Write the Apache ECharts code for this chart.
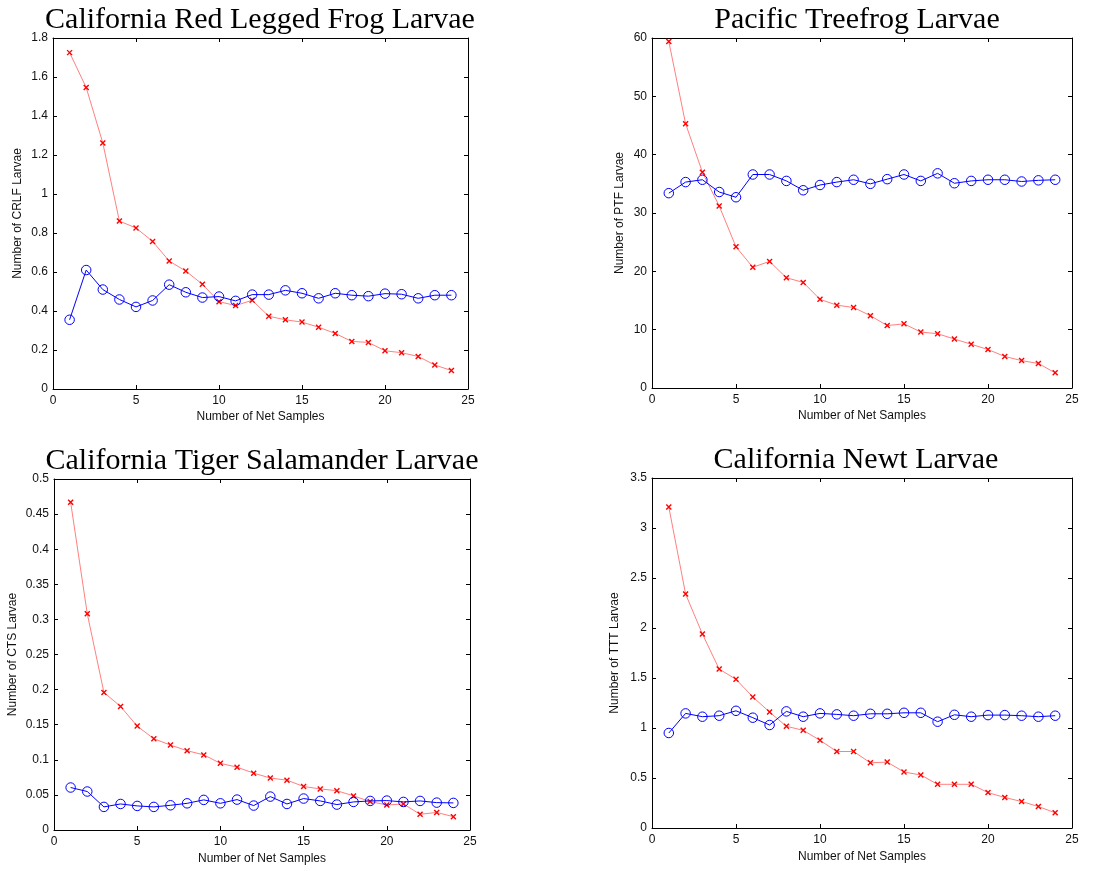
<!DOCTYPE html>
<html>
<head>
<meta charset="utf-8">
<script src="https://cdn.jsdelivr.net/npm/echarts@6/dist/echarts.min.js"></script>
<style>
  html, body { margin: 0; padding: 0; background: #fff; }
  #chart { width: 1112px; height: 871px; }
</style>
</head>
<body>
<div id="chart"></div>
<script>
// Net sample index (x values shared by every panel)
const netSamples = [1,2,3,4,5,6,7,8,9,10,11,12,13,14,15,16,17,18,19,20,21,22,23,24];

// Panel titles and y-axis names
const panelTitles = [
  'California Red Legged Frog Larvae',
  'Pacific Treefrog Larvae',
  'California Tiger Salamander Larvae',
  'California Newt Larvae'
];
const yNames = ['Number of CRLF Larvae', 'Number of PTF Larvae', 'Number of CTS Larvae', 'Number of TTT Larvae'];
const xName = 'Number of Net Samples';

// Y-axis ranges and tick steps
const yMax = [1.8, 60, 0.5, 3.5];
const yStep = [0.2, 10, 0.05, 0.5];

// CRLF
const crlfRed  = [1.725,1.546,1.262,0.861,0.826,0.757,0.656,0.605,0.537,0.448,0.428,0.455,0.373,0.355,0.343,0.317,0.285,0.244,0.239,0.196,0.186,0.167,0.123,0.095];
const crlfBlue = [0.355,0.610,0.510,0.459,0.421,0.454,0.535,0.496,0.469,0.474,0.452,0.484,0.484,0.506,0.491,0.465,0.491,0.481,0.476,0.489,0.486,0.465,0.481,0.481];
// PTF
const ptfRed  = [59.4,45.3,37.0,31.2,24.2,20.7,21.7,18.9,18.1,15.2,14.2,13.8,12.4,10.7,11.0,9.6,9.3,8.4,7.5,6.6,5.4,4.7,4.2,2.6];
const ptfBlue = [33.4,35.3,35.7,33.6,32.7,36.6,36.6,35.5,33.9,34.8,35.3,35.7,35.0,35.8,36.6,35.5,36.8,35.1,35.5,35.7,35.7,35.4,35.6,35.7];
// CTS
const ctsRed  = [0.467,0.308,0.196,0.176,0.148,0.130,0.121,0.113,0.107,0.095,0.0895,0.081,0.074,0.071,0.062,0.0585,0.056,0.0486,0.0405,0.0357,0.037,0.0224,0.025,0.019];
const ctsBlue = [0.0605,0.0548,0.0329,0.0371,0.0343,0.0329,0.0352,0.038,0.0429,0.038,0.0433,0.0348,0.0476,0.0371,0.0448,0.0414,0.0362,0.040,0.0414,0.0419,0.040,0.0414,0.039,0.0386];
// TTT
const tttRed  = [3.21,2.34,1.94,1.589,1.487,1.311,1.159,1.017,0.977,0.877,0.765,0.765,0.652,0.659,0.560,0.530,0.437,0.437,0.437,0.354,0.305,0.265,0.215,0.152];
const tttBlue = [0.950,1.146,1.113,1.123,1.172,1.103,1.030,1.166,1.113,1.146,1.136,1.123,1.142,1.142,1.152,1.152,1.063,1.132,1.113,1.129,1.129,1.123,1.113,1.123];

const redSets = [crlfRed, ptfRed, ctsRed, tttRed];
const blueSets = [crlfBlue, ptfBlue, ctsBlue, tttBlue];

// Plot-box geometry per panel (titleX = horizontal centre of the title)
const boxes = [
  { left: 53,  top: 38,  width: 415, height: 351, yGap: 29, xGap: 22, titleX: 260 },
  { left: 652, top: 38,  width: 420, height: 350, yGap: 26, xGap: 22, titleX: 857 },
  { left: 54,  top: 479, width: 416, height: 351, yGap: 35, xGap: 23, titleX: 262 },
  { left: 652, top: 478, width: 420, height: 350, yGap: 31, xGap: 23, titleX: 856 }
];

const tickFont = { fontFamily: 'Liberation Sans, Arial, sans-serif', fontSize: 12, color: '#111' };
const axisLine = { show: true, onZero: false, lineStyle: { color: '#000', width: 1 } };
const tickIn = { show: true, inside: true, length: 4, lineStyle: { color: '#000', width: 1 } };

const crossPath = 'path://M0,0L10,10M10,0L0,10';

const grid = [], xAxis = [], yAxis = [], series = [], title = [];

boxes.forEach((b, i) => {
  grid.push({ left: b.left, top: b.top, width: b.width, height: b.height, containLabel: false });
  title.push({
    text: panelTitles[i],
    left: b.titleX,
    top: b.top - 33,
    padding: 0,
    textAlign: 'center',
    textStyle: { fontFamily: 'Liberation Serif, Times New Roman, serif', fontSize: 30, fontWeight: 'normal', color: '#000' }
  });
  // bottom x axis (labelled)
  xAxis.push({
    type: 'value', gridIndex: i, position: 'bottom', min: 0, max: 25, interval: 5,
    name: xName, nameLocation: 'middle', nameGap: b.xGap,
    nameTextStyle: tickFont,
    axisLine: axisLine, axisTick: tickIn,
    axisLabel: Object.assign({ margin: 6 }, tickFont),
    splitLine: { show: false }
  });
  // top x axis (ticks only)
  xAxis.push({
    type: 'value', gridIndex: i, position: 'top', min: 0, max: 25, interval: 5,
    axisLine: axisLine, axisTick: tickIn, axisLabel: { show: false }, splitLine: { show: false }
  });
  // left y axis (labelled)
  yAxis.push({
    type: 'value', gridIndex: i, position: 'left', min: 0, max: yMax[i], interval: yStep[i],
    name: yNames[i], nameLocation: 'middle', nameGap: b.yGap,
    nameTextStyle: tickFont,
    axisLine: axisLine, axisTick: tickIn,
    axisLabel: Object.assign({ margin: 5 }, tickFont),
    splitLine: { show: false }
  });
  // right y axis (ticks only)
  yAxis.push({
    type: 'value', gridIndex: i, position: 'right', min: 0, max: yMax[i], interval: yStep[i],
    axisLine: axisLine, axisTick: tickIn, axisLabel: { show: false }, splitLine: { show: false }
  });

  const red = redSets[i].map((v, k) => [netSamples[k], v]);
  const blue = blueSets[i].map((v, k) => [netSamples[k], v]);

  series.push({
    type: 'line', xAxisIndex: 2 * i, yAxisIndex: 2 * i, data: red,
    symbol: crossPath, symbolSize: 5,
    itemStyle: { color: 'transparent', borderColor: '#ff0000', borderWidth: 1.4 },
    lineStyle: { color: '#ff8080', width: 1 },
    z: 2
  });
  series.push({
    type: 'line', xAxisIndex: 2 * i, yAxisIndex: 2 * i, data: blue,
    symbol: 'circle', symbolSize: 9.5,
    itemStyle: { color: 'transparent', borderColor: '#0000ff', borderWidth: 1 },
    lineStyle: { color: '#0000ff', width: 1 },
    z: 3
  });
});

const chart = echarts.init(document.getElementById('chart'), null, { renderer: 'canvas' });
chart.setOption({
  animation: false,
  backgroundColor: '#fff',
  title: title,
  grid: grid,
  xAxis: xAxis,
  yAxis: yAxis,
  series: series
});
</script>
</body>
</html>
